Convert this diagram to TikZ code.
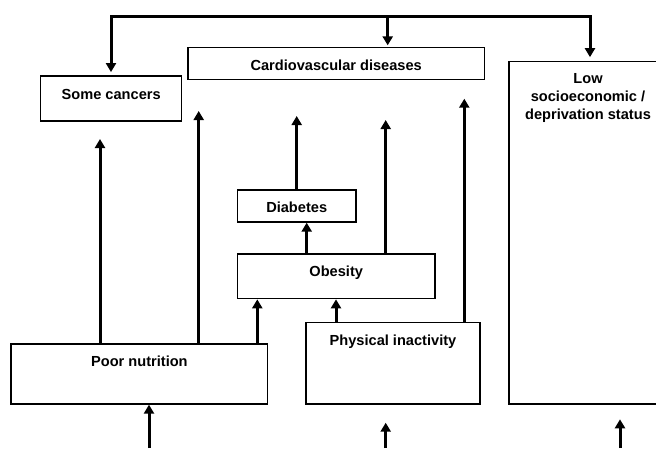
\documentclass[tikz,border=0pt]{standalone}
\usepackage{fontspec}
\setmainfont{Liberation Sans}
\usetikzlibrary{arrows.meta}
\begin{document}
\begin{tikzpicture}[x=1pt,y=-1pt,
  box/.style={draw, line width=1.3pt, inner sep=0pt},
  lbl/.style={anchor=base, inner sep=0pt, align=center,
    font=\fontsize{14.6}{18}\selectfont\bfseries},
  arr/.style={line width=3pt, -{Triangle[length=9pt,width=10pt]}},
  twoarr/.style={line width=3pt,
    {Triangle[length=9pt,width=10pt]}-{Triangle[length=9pt,width=10pt]}},
  feed/.style={line width=3pt}]
\useasboundingbox (0,0) rectangle (656,448);
\clip (0,0) rectangle (656,448);

% outcome and risk-factor boxes
\node[box, minimum width=141pt,   minimum height=45pt]   (sc)  at (111.2,98.5) {};
\node[box, minimum width=296.3pt, minimum height=31.6pt] (cvd) at (336.2,63.5) {};
\node[box, minimum width=158pt,   minimum height=342.7pt](low) at (588,232.65) {};
\node[box, minimum width=118.7pt, minimum height=32pt]   (dia) at (296.7,206) {};
\node[box, minimum width=197.7pt, minimum height=44.7pt] (obe) at (336.2,276.35) {};
\node[box, minimum width=256.7pt, minimum height=60pt]   (pn)  at (139.4,374) {};
\node[box, minimum width=174pt,   minimum height=81.3pt] (pi)  at (393,363.35) {};

% box labels
\node[lbl] (scl)  at (111.2,99)   {Some cancers};
\node[lbl] (cvdl) at (336.2,70.7) {Cardiovascular diseases};
\node[lbl] (lowl) at (588,119)    {Low\\socioeconomic /\\deprivation status};
\node[lbl] (dial) at (296.7,212.3){Diabetes};
\node[lbl] (obel) at (336.2,276.3){Obesity};
\node[lbl] (pnl)  at (139.4,366.7){Poor nutrition};
\node[lbl] (pil)  at (393,345.6)  {Physical inactivity};

% top bracket feeding three outcomes
\coordinate (tl) at (111,16);
\coordinate (tm) at (387.7,16);
\coordinate (tr) at (590,16);
\draw[twoarr, shorten <=3.3pt, shorten >=3.5pt]
  (sc.north -| tl) -- (tl) -- (tr) -- (low.north -| tr);
\draw[arr, shorten >=1.7pt] (tm) -- (cvd.north -| tm);

% upward arrows ending short of the outcome boxes
\coordinate (t1) at (100,139);
\coordinate (t2) at (198.7,111);
\coordinate (t3) at (296.7,116);
\coordinate (t4) at (385.7,120);
\coordinate (t5) at (464.3,98.7);
\draw[arr] (pn.north -| t1) -- (t1);
\draw[arr] (pn.north -| t2) -- (t2);
\draw[arr] (dia.north -| t3) -- (t3);
\draw[arr] (obe.north -| t4) -- (t4);
\draw[arr] (pi.north -| t5) -- (t5);

% links between risk factors
\coordinate (o1) at (306.7,0);
\coordinate (o2) at (257.3,0);
\coordinate (o3) at (336,0);
\draw[arr] (obe.north -| o1) -- (dia.south -| o1);
\draw[arr] (pn.north -| o2) -- (obe.south -| o2);
\draw[arr] (pi.north -| o3) -- (obe.south -| o3);

% incoming arrows from below
\coordinate (b1) at (149,448);
\coordinate (b2) at (385.7,448);
\coordinate (b3) at (620,448);
\coordinate (e2) at (385.7,422.7);
\coordinate (e3) at (620,419.3);
\draw[arr] (b1) -- (pn.south -| b1);
\draw[arr] (b2) -- (e2);
\draw[arr] (b3) -- (e3);
\end{tikzpicture}
\end{document}
